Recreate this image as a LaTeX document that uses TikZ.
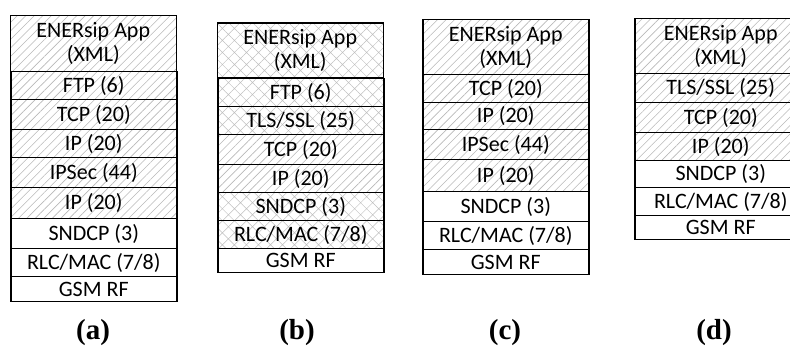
\documentclass[tikz,border=0pt]{standalone}
\usepackage{fontspec}
\setmainfont{Carlito}
\newfontfamily\capfont{Liberation Serif}
\usetikzlibrary{patterns.meta}

\tikzset{
  layer/.style={draw, line width=1.5pt, inner sep=0pt, anchor=north west,
    minimum width=166pt, align=center, font=\fontsize{22}{24}\selectfont},
  hl/.style={layer, pattern={Lines[angle=45,distance=6pt,line width=0.6pt]},
    pattern color=black!28},
  hx/.style={layer, pattern={Hatch[angle=45,distance=8.5pt,line width=0.5pt]},
    pattern color=black!25},
  caption/.style={inner sep=0pt, font=\capfont\bfseries\fontsize{29}{31}\selectfont}
}

\begin{document}
\begin{tikzpicture}[x=1pt, y=-1pt]
\useasboundingbox (0,0) rectangle (790,347);

% (a) FTP over IPSec
\node[hl, minimum height=56pt] (a1) at (10,15)  {ENERsip App\\(XML)};
\node[hl, minimum height=28pt] (a2) at (10,71)  {FTP (6)};
\node[hl, minimum height=30pt] (a3) at (10,99)  {TCP (20)};
\node[hl, minimum height=28pt] (a4) at (10,129) {IP (20)};
\node[hl, minimum height=30pt] (a5) at (10,157) {IPSec (44)};
\node[hl, minimum height=31pt] (a6) at (10,187) {IP (20)};
\node[layer, minimum height=30pt] (a7) at (10,218) {SNDCP (3)};
\node[layer, minimum height=28pt] (a8) at (10,248) {RLC/MAC (7/8)};
\node[layer, minimum height=25pt] (a9) at (10,276) {GSM RF};
\node[caption] (ca) at (93,332.5) {(a)};

% (b) FTP over TLS/SSL
\node[hx, minimum height=55pt] (b1) at (217,23)  {ENERsip App\\(XML)};
\node[hx, minimum height=28pt] (b2) at (217,78)  {FTP (6)};
\node[hx, minimum height=28pt] (b3) at (217,106) {TLS/SSL (25)};
\node[hl, minimum height=30pt] (b4) at (217,134) {TCP (20)};
\node[hl, minimum height=28pt] (b5) at (217,164) {IP (20)};
\node[hx, minimum height=28pt] (b6) at (217,192) {SNDCP (3)};
\node[hx, minimum height=28pt] (b7) at (217,220) {RLC/MAC (7/8)};
\node[layer, minimum height=24pt] (b8) at (217,248) {GSM RF};
\node[caption] (cb) at (297,332.5) {(b)};

% (c) IPSec tunnel
\node[hl, minimum height=55pt] (c1) at (422,19)  {ENERsip App\\(XML)};
\node[hl, minimum height=28pt] (c2) at (422,74)  {TCP (20)};
\node[hl, minimum height=27pt] (c3) at (422,102) {IP (20)};
\node[hl, minimum height=30pt] (c4) at (422,129) {IPSec (44)};
\node[hl, minimum height=32pt] (c5) at (422,159) {IP (20)};
\node[layer, minimum height=30pt] (c6) at (422,191) {SNDCP (3)};
\node[layer, minimum height=28pt] (c7) at (422,221) {RLC/MAC (7/8)};
\node[layer, minimum height=25pt] (c8) at (422,249) {GSM RF};
\node[caption] (cc) at (505,332.5) {(c)};

% (d) TLS/SSL only
\node[hl, minimum width=172pt, minimum height=55pt] (d1) at (634,18)  {ENERsip App\\(XML)};
\node[hl, minimum width=172pt, minimum height=29pt] (d2) at (634,73)  {TLS/SSL (25)};
\node[hl, minimum width=172pt, minimum height=30pt] (d3) at (634,102) {TCP (20)};
\node[hl, minimum width=172pt, minimum height=28pt] (d4) at (634,132) {IP (20)};
\node[layer, minimum width=172pt, minimum height=27pt] (d5) at (634,160) {SNDCP (3)};
\node[layer, minimum width=172pt, minimum height=28pt] (d6) at (634,187) {RLC/MAC (7/8)};
\node[layer, minimum width=172pt, minimum height=24pt] (d7) at (634,215) {GSM RF};
\node[caption] (cd) at (714,332.5) {(d)};
\end{tikzpicture}
\end{document}
